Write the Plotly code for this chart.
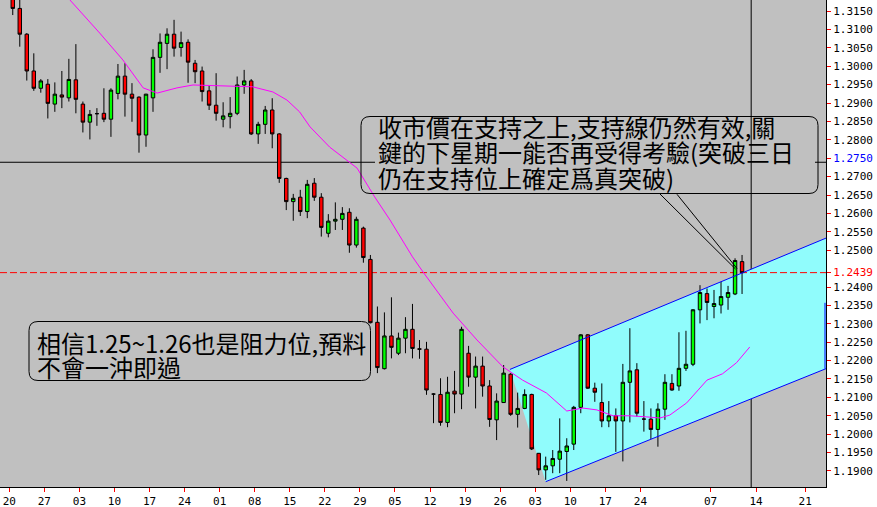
import plotly.graph_objects as go

# ---------------- data ----------------
opens = [1.3190, 1.3157, 1.3087, 1.2987, 1.2940, 1.2951, 1.2897, 1.2922, 1.2914, 1.2963,
         1.2897, 1.2848, 1.2871, 1.2872, 1.2856, 1.2926, 1.2973, 1.2924, 1.2916, 1.2813,
         1.2914, 1.3024, 1.3062, 1.3087, 1.3051, 1.3065, 1.3008, 1.2987, 1.2933, 1.2894,
         1.2856, 1.2863, 1.2872, 1.2949, 1.2960, 1.2816, 1.2842, 1.2881, 1.2816, 1.2695,
         1.2632, 1.2644, 1.2605, 1.2682, 1.2644, 1.2546, 1.2579, 1.2584, 1.2603, 1.2514,
         1.2560, 1.2475, 1.2304, 1.2178, 1.2267, 1.2220, 1.2261, 1.2285, 1.2232, 1.2231,
         1.2109, 1.2108, 1.2032, 1.2117, 1.2109, 1.2220, 1.2155, 1.2185, 1.2131, 1.2039,
         1.2086, 1.2163, 1.2054, 1.2070, 1.2108, 1.1948, 1.1903, 1.1914, 1.1932, 1.1953,
         1.1973, 1.2073, 1.2270, 1.2125, 1.2086, 1.2036, 1.2050, 1.2036, 1.2141, 1.2175,
         1.2041, 1.2041, 1.2013, 1.2068, 1.2138, 1.2131, 1.2179, 1.2190, 1.2338, 1.2382,
         1.2347, 1.2351, 1.2372, 1.2381, 1.2469]
highs = [1.3200, 1.3180, 1.3090, 1.3035, 1.2965, 1.2965, 1.2956, 1.2987, 1.3020, 1.3060,
         1.2904, 1.2881, 1.2886, 1.2940, 1.2940, 1.3006, 1.3008, 1.2954, 1.2918, 1.2925,
         1.3046, 1.3089, 1.3103, 1.3126, 1.3094, 1.3073, 1.3017, 1.2999, 1.2947, 1.2981,
         1.2902, 1.2916, 1.2972, 1.2990, 1.2965, 1.2849, 1.2892, 1.2913, 1.2818, 1.2697,
         1.2653, 1.2664, 1.2691, 1.2696, 1.2655, 1.2598, 1.2630, 1.2617, 1.2614, 1.2591,
         1.2564, 1.2487, 1.2347, 1.2331, 1.2372, 1.2276, 1.2318, 1.2354, 1.2256, 1.2251,
         1.2111, 1.2152, 1.2156, 1.2172, 1.2292, 1.2240, 1.2211, 1.2211, 1.2147, 1.2111,
         1.2188, 1.2166, 1.2113, 1.2122, 1.2110, 1.1949, 1.1939, 1.1957, 1.2043, 1.1989,
         1.2077, 1.2272, 1.2272, 1.2140, 1.2138, 1.2090, 1.2070, 1.2191, 1.2288, 1.2193,
         1.2090, 1.2070, 1.2084, 1.2163, 1.2163, 1.2277, 1.2281, 1.2340, 1.2405, 1.2396,
         1.2392, 1.2414, 1.2403, 1.2478, 1.2487]
lows = [1.3139, 1.3053, 1.2961, 1.2933, 1.2928, 1.2858, 1.2876, 1.2886, 1.2904, 1.2872,
        1.2820, 1.2801, 1.2838, 1.2848, 1.2808, 1.2910, 1.2863, 1.2849, 1.2765, 1.2781,
        1.2876, 1.2982, 1.2992, 1.3026, 1.3026, 1.2955, 1.2954, 1.2904, 1.2881, 1.2852,
        1.2834, 1.2831, 1.2867, 1.2925, 1.2813, 1.2789, 1.2816, 1.2777, 1.2683, 1.2609,
        1.2580, 1.2593, 1.2587, 1.2634, 1.2537, 1.2535, 1.2555, 1.2555, 1.2493, 1.2507,
        1.2466, 1.2301, 1.2166, 1.2176, 1.2206, 1.2215, 1.2220, 1.2206, 1.2205, 1.2107,
        1.2030, 1.2023, 1.2019, 1.2057, 1.2068, 1.2129, 1.2070, 1.2102, 1.2020, 1.1984,
        1.2085, 1.2050, 1.2018, 1.2068, 1.1957, 1.1889, 1.1876, 1.1894, 1.1894, 1.1873,
        1.1957, 1.2057, 1.2123, 1.2088, 1.2019, 1.2019, 1.1952, 1.1926, 1.2032, 1.2048,
        1.2007, 1.1987, 1.1966, 1.2039, 1.2118, 1.2118, 1.2172, 1.2185, 1.2301, 1.2310,
        1.2315, 1.2328, 1.2338, 1.2378, 1.2381]
closes = [1.3157, 1.3087, 1.2987, 1.2940, 1.2960, 1.2899, 1.2924, 1.2916, 1.2964, 1.2910,
          1.2848, 1.2869, 1.2871, 1.2856, 1.2935, 1.2973, 1.2924, 1.2913, 1.2813, 1.2924,
          1.3024, 1.3065, 1.3087, 1.3049, 1.3064, 1.3011, 1.2985, 1.2931, 1.2894, 1.2872,
          1.2865, 1.2872, 1.2949, 1.2960, 1.2816, 1.2842, 1.2881, 1.2816, 1.2695, 1.2632,
          1.2641, 1.2605, 1.2679, 1.2644, 1.2562, 1.2579, 1.2584, 1.2600, 1.2514, 1.2584,
          1.2480, 1.2303, 1.2181, 1.2267, 1.2236, 1.2261, 1.2285, 1.2233, 1.2231, 1.2120,
          1.2109, 1.2032, 1.2114, 1.2109, 1.2285, 1.2155, 1.2185, 1.2131, 1.2040, 1.2090,
          1.2166, 1.2054, 1.2070, 1.2108, 1.1960, 1.1903, 1.1914, 1.1934, 1.1954, 1.1968,
          1.2073, 1.2270, 1.2125, 1.2114, 1.2036, 1.2050, 1.2036, 1.2141, 1.2172, 1.2057,
          1.2041, 1.2013, 1.2068, 1.2141, 1.2120, 1.2179, 1.2190, 1.2338, 1.2385, 1.2358,
          1.2355, 1.2374, 1.2385, 1.2472, 1.2439]
bar_index = list(range(len(opens)))

# moving-average line, sampled points (bar index, price)
ma_x = [8.15, 12.4, 15.7, 18.6, 20.6, 23.4, 25.7, 31.4, 34.2, 37.1, 39.1, 40.9, 42.4, 45.2,
        49.1, 51.6, 53.8, 57.0, 58.5, 62.8, 66.2, 69.9, 71.2, 72.7, 76.1, 79.0, 81.3, 83.3,
        85.6, 88.0, 90.4, 92.3, 93.7, 96.1, 99.0, 101.2, 103.2, 105.1]
ma_y = [1.3180, 1.3090, 1.3017, 1.2941, 1.2927, 1.2941, 1.2949, 1.2946, 1.2944, 1.2930,
        1.2908, 1.2876, 1.2835, 1.2780, 1.2723, 1.2645, 1.2582, 1.2482, 1.2441, 1.2329,
        1.2256, 1.2183, 1.2166, 1.2147, 1.2112, 1.2063, 1.2071, 1.2066, 1.2050, 1.2050,
        1.2047, 1.2044, 1.2052, 1.2085, 1.2147, 1.2164, 1.2194, 1.2237]

# rising channel (bar index, price)
chan_upper_x = [70.9, 117.0]
chan_upper_y = [1.2176, 1.2541]
chan_lower_x = [76.0, 117.0]
chan_lower_y = [1.1871, 1.2186]
chan_edge_y = [1.2357, 1.2178]   # short blue segment on the right border

support_level = 1.2739      # black horizontal line
last_close_level = 1.2439   # red dashed line
marker_bar = 105.3          # black vertical line

x_tick_pos = [-0.5, 4.5, 9.5, 14.5, 19.5, 24.5, 29.5, 34.5, 39.5, 44.5, 49.5, 54.5, 59.5,
              64.5, 69.5, 74.5, 79.5, 84.5, 89.5, 99.5, 106.0, 113.0]
x_tick_labels = ["20", "27", "03", "10", "17", "24", "01", "08", "15", "22", "29", "05", "12",
                 "19", "26", "03", "10", "17", "24", "07", "14", "21"]
y_tick_vals = [1.3150, 1.3100, 1.3050, 1.3000, 1.2950, 1.2900, 1.2850, 1.2800, 1.2750, 1.2700,
               1.2650, 1.2600, 1.2550, 1.2500, 1.2439, 1.2400, 1.2350, 1.2300, 1.2250, 1.2200,
               1.2150, 1.2100, 1.2050, 1.2000, 1.1950, 1.1900]
y_label_colors = {1.2750: "#0000FF", 1.2439: "#FF0000"}

note1_lines = ["收市價在支持之上,支持線仍然有效,關",
               "鍵的下星期一能否再受得考驗(突破三日",
               "仍在支持位上確定爲真突破)"]
note2_lines = ["相信1.25~1.26也是阻力位,預料",
               "不會一沖即過"]

# ---------------- layout helpers ----------------
PW, PH = 826.0, 487.0
X_RANGE = [-1.82, 115.97]
Y_RANGE = [1.18565, 1.31799]


def px_x(v):
    return v / PW


def px_y(v):
    return 1 - v / PH


def k_of_px(v):
    return X_RANGE[0] + v / PW * (X_RANGE[1] - X_RANGE[0])


def rounded_box(x0, y0, x1, y1, r):
    X, Y = px_x, px_y
    return (f"M {X(x0 + r)},{Y(y0)} L {X(x1 - r)},{Y(y0)} Q {X(x1)},{Y(y0)} {X(x1)},{Y(y0 + r)} "
            f"L {X(x1)},{Y(y1 - r)} Q {X(x1)},{Y(y1)} {X(x1 - r)},{Y(y1)} "
            f"L {X(x0 + r)},{Y(y1)} Q {X(x0)},{Y(y1)} {X(x0)},{Y(y1 - r)} "
            f"L {X(x0)},{Y(y0 + r)} Q {X(x0)},{Y(y0)} {X(x0 + r)},{Y(y0)} Z")


fig = go.Figure()

# candles
fig.add_trace(go.Candlestick(
    x=bar_index, open=opens, high=highs, low=lows, close=closes,
    increasing=dict(fillcolor="#00FF00", line=dict(color="black", width=1)),
    decreasing=dict(fillcolor="#FF0000", line=dict(color="black", width=1)),
    whiskerwidth=0, hoverinfo="skip", showlegend=False))

# channel borders
fig.add_trace(go.Scatter(x=chan_upper_x, y=chan_upper_y, mode="lines",
                         line=dict(color="#0000FF", width=1), showlegend=False))
fig.add_trace(go.Scatter(x=chan_lower_x, y=chan_lower_y, mode="lines",
                         line=dict(color="#0000FF", width=1), showlegend=False))

# moving average
fig.add_trace(go.Scatter(x=ma_x, y=ma_y, mode="lines", line=dict(color="#FF00FF", width=1),
                         showlegend=False))

# y tick labels
y_tick_text = []
for v in y_tick_vals:
    s = f"{v:.4f}"
    if v in y_label_colors:
        s = f'<span style="color:{y_label_colors[v]}">{s}</span>'
    y_tick_text.append(s)

chan_path = (f"M {chan_upper_x[0]},{chan_upper_y[0]} L {chan_upper_x[1]},{chan_upper_y[1]} "
             f"L {chan_lower_x[1]},{chan_lower_y[1]} L {chan_lower_x[0]},{chan_lower_y[0]} Z")

shapes = [
    # channel fill (under the candles)
    dict(type="path", xref="x", yref="y", path=chan_path, layer="below",
         fillcolor="#90FCFC", line=dict(width=0)),
    # horizontal support line (hidden behind the note text)
    dict(type="line", xref="x", yref="y", x0=X_RANGE[0], x1=k_of_px(375),
         y0=support_level, y1=support_level, layer="below", line=dict(color="black", width=1)),
    dict(type="line", xref="x", yref="y", x0=k_of_px(815), x1=X_RANGE[1],
         y0=support_level, y1=support_level, layer="below", line=dict(color="black", width=1)),
    # last close dashed line
    dict(type="line", xref="x", yref="y", x0=X_RANGE[0], x1=X_RANGE[1],
         y0=last_close_level, y1=last_close_level, layer="below",
         line=dict(color="#FF0000", width=1, dash="7px,3px")),
    # vertical marker
    dict(type="line", xref="x", yref="paper", x0=marker_bar, x1=marker_bar, y0=0, y1=1,
         layer="below", line=dict(color="black", width=1)),
    # blue segment on the right border of the channel
    dict(type="line", xref="paper", yref="y", x0=px_x(825), x1=px_x(825),
         y0=chan_edge_y[0], y1=chan_edge_y[1], line=dict(color="#0000FF", width=1)),
    # note boxes
    dict(type="path", xref="paper", yref="paper", path=rounded_box(361, 116.5, 818, 193.5, 9),
         line=dict(color="black", width=1), fillcolor="rgba(0,0,0,0)"),
    dict(type="path", xref="paper", yref="paper", path=rounded_box(29, 321.5, 370.5, 380.5, 9),
         line=dict(color="black", width=1), fillcolor="rgba(0,0,0,0)"),
    # pointer lines
    dict(type="line", xref="paper", yref="paper", x0=px_x(659), y0=px_y(193), x1=px_x(735.5),
         y1=px_y(269), line=dict(color="black", width=1)),
    dict(type="line", xref="paper", yref="paper", x0=px_x(677), y0=px_y(194.3), x1=px_x(737),
         y1=px_y(268.5), line=dict(color="black", width=1)),
]

annotations = []
for i, t in enumerate(note1_lines):
    annotations.append(dict(xref="paper", yref="paper", x=px_x(376), y=px_y(127 + 25 * i),
                            xanchor="left", yanchor="middle", text=t, showarrow=False,
                            font=dict(family="Noto Sans CJK TC", size=24, color="black")))
for i, t in enumerate(note2_lines):
    annotations.append(dict(xref="paper", yref="paper", x=px_x(35), y=px_y(342 + 24.5 * i),
                            xanchor="left", yanchor="middle", text=t, showarrow=False,
                            font=dict(family="Noto Sans CJK TC", size=24, color="black")))

tick_font = dict(family="DejaVu Sans Mono", size=11, color="black")
fig.update_layout(
    width=877, height=507,
    margin=dict(l=0, r=51, t=0, b=20, pad=0),
    paper_bgcolor="white", plot_bgcolor="#C0C0C0",
    showlegend=False,
    xaxis=dict(range=X_RANGE, tickmode="array", tickvals=x_tick_pos, ticktext=x_tick_labels,
               ticks="outside", ticklen=4, tickcolor="#FF0000", tickwidth=1,
               showline=True, linecolor="black", linewidth=1, showgrid=False, zeroline=False,
               tickfont=tick_font, fixedrange=True, rangeslider=dict(visible=False)),
    yaxis=dict(range=Y_RANGE, side="right", tickmode="array", tickvals=y_tick_vals,
               ticktext=y_tick_text, ticks="outside", ticklen=4, tickcolor="#FF0000",
               tickwidth=1, showline=True, linecolor="black", linewidth=1, showgrid=False,
               zeroline=False, tickfont=tick_font, fixedrange=True),
    shapes=shapes, annotations=annotations,
)

fig.write_html("out.html", config={"displayModeBar": False},
               post_script="document.body.style.margin='0px';document.body.style.overflow='hidden';")
